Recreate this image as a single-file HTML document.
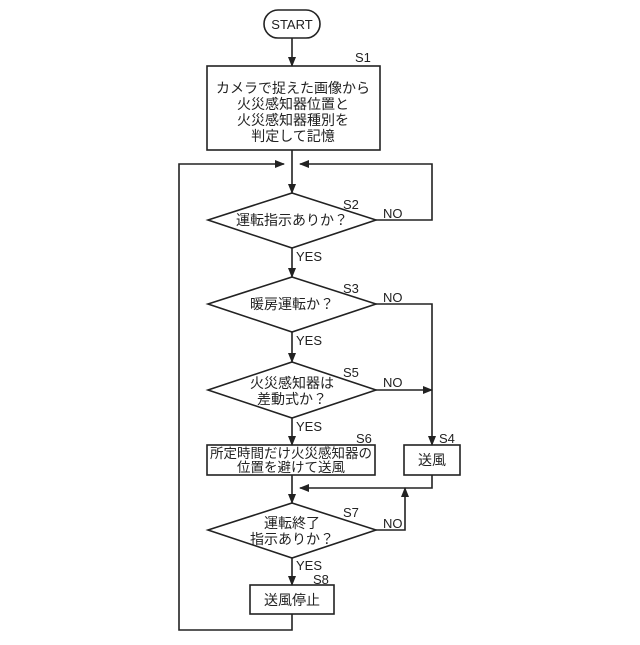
<!DOCTYPE html>
<html><head><meta charset="utf-8"><style>body{margin:0;background:#fff}</style></head><body>
<svg width="640" height="640" xmlns="http://www.w3.org/2000/svg" font-family="'Liberation Sans','Noto Sans CJK JP',sans-serif" fill="none" stroke="#222" stroke-width="1.6">
<defs><marker id="a" markerWidth="10" markerHeight="8" refX="9" refY="4" orient="auto" markerUnits="userSpaceOnUse"><path d="M0,0 L10,4 L0,8z" fill="#222" stroke="none"/></marker></defs>
<rect x="264" y="10" width="56" height="28" rx="14"/>
<rect x="207" y="66" width="173" height="84"/>
<polygon points="292,193 376,220 292,248 208,220"/>
<polygon points="292,277 376,304 292,332 208,304"/>
<polygon points="292,362 376,390 292,418 208,390"/>
<rect x="207" y="445" width="168" height="30"/>
<rect x="404" y="445" width="56" height="30"/>
<polygon points="292,503 376,530 292,558 208,530"/>
<rect x="250" y="585" width="84" height="29"/>
<g marker-end="url(#a)">
<line x1="292" y1="38" x2="292" y2="66"/>
<line x1="292" y1="150" x2="292" y2="193"/>
<line x1="292" y1="248" x2="292" y2="277"/>
<line x1="292" y1="332" x2="292" y2="362"/>
<line x1="292" y1="418" x2="292" y2="445"/>
<line x1="292" y1="475" x2="292" y2="503"/>
<line x1="292" y1="558" x2="292" y2="585"/>
<polyline points="292,614 292,630 179,630 179,164 284,164"/>
<polyline points="376,220 432,220 432,164 300,164"/>
<polyline points="376,304 432,304 432,445"/>
<line x1="376" y1="390" x2="432" y2="390"/>
<polyline points="432,475 432,488 300,488"/>
<polyline points="376,530 405,530 405,488"/>
</g>
<g fill="#222" stroke="none" font-size="14" text-anchor="middle">
<text x="292" y="29" font-size="13">START</text>
<text x="293" y="93">カメラで捉えた画像から</text>
<text x="293" y="109">火災感知器位置と</text>
<text x="293" y="125">火災感知器種別を</text>
<text x="293" y="141">判定して記憶</text>
<text x="292" y="225">運転指示ありか？</text>
<text x="292" y="309">暖房運転か？</text>
<text x="292" y="388">火災感知器は</text>
<text x="292" y="404">差動式か？</text>
<text x="291" y="458" font-size="13.5">所定時間だけ火災感知器の</text>
<text x="291" y="472" font-size="13.5">位置を避けて送風</text>
<text x="432" y="465">送風</text>
<text x="292" y="528">運転終了</text>
<text x="292" y="544">指示ありか？</text>
<text x="292" y="605">送風停止</text>
<g font-size="13" text-anchor="start">
<text x="355" y="62">S1</text><text x="343" y="209">S2</text><text x="343" y="293">S3</text>
<text x="343" y="377">S5</text><text x="356" y="443">S6</text><text x="439" y="443">S4</text>
<text x="343" y="517">S7</text><text x="313" y="584">S8</text>
<text x="383" y="218">NO</text><text x="383" y="302">NO</text><text x="383" y="387">NO</text><text x="383" y="528">NO</text>
<text x="296" y="261">YES</text><text x="296" y="345">YES</text><text x="296" y="431">YES</text><text x="296" y="570">YES</text>
</g></g>
</svg>
</body></html>
